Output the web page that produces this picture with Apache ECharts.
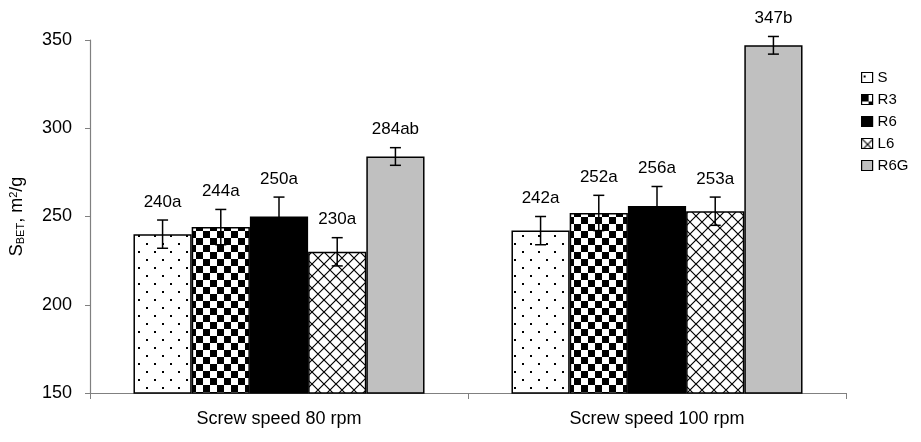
<!DOCTYPE html>
<html>
<head>
<meta charset="utf-8">
<script src="https://cdn.jsdelivr.net/npm/echarts@6/dist/echarts.min.js"></script>
<style>
  html, body { margin: 0; padding: 0; background: #fff; }
  #chart { width: 921px; height: 442px; }
</style>
</head>
<body>
<div id="chart"></div>
<script>
var categories = ['Screw speed 80 rpm', 'Screw speed 100 rpm'];
var seriesNames = ['S', 'R3', 'R6', 'L6', 'R6G'];
// values per series: [80 rpm, 100 rpm]
var valS = [240, 242];
var valR3 = [244, 252];
var valR6 = [250, 256];
var valL6 = [230, 253];
var valR6G = [284, 347];
// error bar half widths
var errS = [8, 8];
var errR3 = [10, 10];
var errR6 = [11, 11];
var errL6 = [8, 8];
var errR6G = [5, 5];
// significance letters
var letS = ['a', 'a'];
var letR3 = ['a', 'a'];
var letR6 = ['a', 'a'];
var letL6 = ['a', 'a'];
var letR6G = ['ab', 'b'];

var yTicks = [150, 200, 250, 300, 350];

var values = [valS, valR3, valR6, valL6, valR6G];
var errors = [errS, errR3, errR6, errL6, errR6G];
var letters = [letS, letR3, letR6, letL6, letR6G];

var FONT = 'Liberation Sans, Arial, sans-serif';

// pattern fills
function makeCanvas(w, h, draw) {
    var c = document.createElement('canvas');
    c.width = w; c.height = h;
    var ctx = c.getContext('2d');
    ctx.fillStyle = '#fff';
    ctx.fillRect(0, 0, w, h);
    draw(ctx);
    return c;
}
var dotCanvas = makeCanvas(16, 16, function(ctx) {
    ctx.fillStyle = '#000';
    ctx.fillRect(2, 3, 2, 2);
    ctx.fillRect(10, 11, 2, 2);
});
var checkCanvas = makeCanvas(14, 14, function(ctx) {
    ctx.fillStyle = '#000';
    ctx.fillRect(0, 0, 7, 7);
    ctx.fillRect(7, 7, 7, 7);
});
var crossCanvas = makeCanvas(12, 12, function(ctx) {
    ctx.strokeStyle = '#000';
    ctx.lineWidth = 1.2;
    ctx.beginPath();
    ctx.moveTo(0, 0); ctx.lineTo(12, 12);
    ctx.moveTo(12, 0); ctx.lineTo(0, 12);
    ctx.stroke();
});
var fills = [
    { image: dotCanvas, repeat: 'repeat' },
    { image: checkCanvas, repeat: 'repeat' },
    '#000000',
    { image: crossCanvas, repeat: 'repeat' },
    '#c0c0c0'
];

var series = seriesNames.map(function(name, i) {
    return {
        name: name,
        type: 'bar',
        data: values[i],
        barGap: '0%',
        barCategoryGap: '23%',
        itemStyle: { color: fills[i], borderColor: '#000', borderWidth: 1.5 }
    };
});

// error bars and letter labels
var nSeries = seriesNames.length;
var errData = [];
for (var s = 0; s < nSeries; s++) {
    for (var c = 0; c < categories.length; c++) {
        errData.push([c, values[s][c], errors[s][c], s, values[s][c] + letters[s][c]]);
    }
}
series.push({
    name: 'err',
    type: 'custom',
    data: errData,
    z: 10,
    renderItem: function(params, api) {
        var c = api.value(0), v = api.value(1), e = api.value(2), s = api.value(3);
        var band = api.size([1, 0])[0];
        var groupW = band * (1 - 0.23);
        var barW = groupW / nSeries;
        var center = api.coord([c, v]);
        var x = center[0] - groupW / 2 + barW * (s + 0.5);
        var yHi = api.coord([c, v + e])[1];
        var yLo = api.coord([c, v - e])[1];
        var hw = 5.5;
        var st = { stroke: '#000', lineWidth: 1.5 };
        return {
            type: 'group',
            children: [
                { type: 'line', shape: { x1: x, y1: yHi, x2: x, y2: yLo }, style: st },
                { type: 'line', shape: { x1: x - hw, y1: yHi, x2: x + hw, y2: yHi }, style: st },
                { type: 'line', shape: { x1: x - hw, y1: yLo, x2: x + hw, y2: yLo }, style: st },
                {
                    type: 'text',
                    style: {
                        x: x, y: yHi - 18,
                        text: errData[params.dataIndex][4],
                        align: 'center', verticalAlign: 'middle',
                        fontFamily: FONT, fontSize: 17, fill: '#000'
                    }
                }
            ]
        };
    }
});

var chart = echarts.init(document.getElementById('chart'));
chart.setOption({
    animation: false,
    grid: { left: 89, right: 75, top: 40, bottom: 49 },
    legend: {
        orient: 'vertical',
        left: 856,
        top: 65,
        itemWidth: 11,
        itemHeight: 10,
        itemGap: 7,
        icon: 'rect',
        data: seriesNames,
        textStyle: { fontFamily: FONT, fontSize: 15, color: '#000', padding: [0, 0, 0, 0] },
        itemStyle: { borderColor: '#000', borderWidth: 1.2 }
    },
    xAxis: {
        type: 'category',
        data: categories,
        axisLine: { lineStyle: { color: '#808080', width: 1.2 } },
        axisTick: { show: true, length: 6, lineStyle: { color: '#808080' } },
        axisLabel: { margin: 17, fontFamily: FONT, fontSize: 18, color: '#000' }
    },
    yAxis: {
        type: 'value',
        min: 150,
        max: 350,
        interval: 50,
        name: '{s|S}{sub|BET}{s|, m}{sup|2}{s|/g}',
        nameLocation: 'middle',
        nameGap: 64,
        nameRotate: 90,
        nameTextStyle: {
            rich: {
                s: { fontFamily: FONT, fontSize: 18, color: '#000' },
                sub: { fontFamily: FONT, fontSize: 11, color: '#000', verticalAlign: 'bottom', padding: [7, 0, 0, 0] },
                sup: { fontFamily: FONT, fontSize: 11, color: '#000', verticalAlign: 'top', padding: [0, 0, 7, 0] }
            }
        },
        axisLine: { show: true, lineStyle: { color: '#808080', width: 1.2 } },
        axisTick: { show: true, length: 5, lineStyle: { color: '#808080' } },
        splitLine: { show: false },
        axisLabel: {
            margin: 18,
            fontFamily: FONT, fontSize: 18, color: '#000',
            formatter: function(v) { return yTicks.indexOf(v) >= 0 ? String(v) : ''; }
        }
    },
    series: series
});
</script>
</body>
</html>
